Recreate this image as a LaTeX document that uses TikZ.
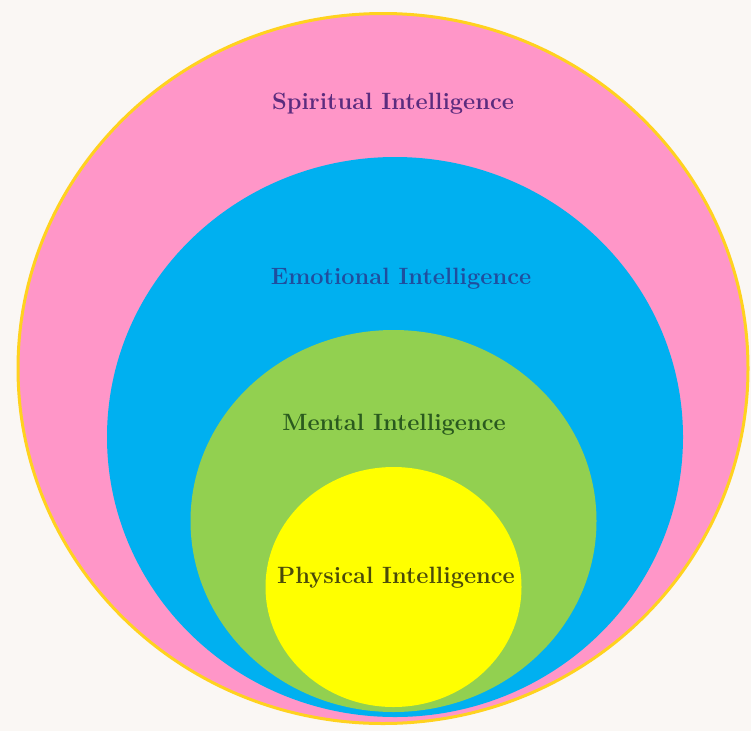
\documentclass[tikz,border=0pt]{standalone}
\usepackage{tikz}
\usetikzlibrary{positioning}
\usepackage{xcolor}

\definecolor{bgcream}{HTML}{FAF7F4}
\definecolor{rimyellow}{HTML}{FFD21F}
\definecolor{spiritpink}{HTML}{FF96C8}
\definecolor{emoblue}{HTML}{00B0F0}
\definecolor{mentgreen}{HTML}{92D050}
\definecolor{physyellow}{HTML}{FFFF00}
\definecolor{spirittext}{HTML}{5B2C7E}
\definecolor{emotext}{HTML}{1F4E9E}
\definecolor{menttext}{HTML}{2A5A1E}
\definecolor{phystext}{HTML}{4A4A0A}

\tikzset{
	lbl/.style={font=\fontsize{23.6}{28}\selectfont\bfseries, inner sep=0pt}
}

\begin{document}
\begin{tikzpicture}[x=1pt, y=-1pt]
			\fill[bgcream] (0,0) rectangle (751,731);
			\useasboundingbox (0,0) rectangle (751,731);
			
			\coordinate (c0) at (383,368.5);
			\coordinate (c1) at (395,437);
			\coordinate (c2) at (393.5,521);
			\coordinate (c3) at (393.5,587);
			
			\filldraw[fill=spiritpink, draw=rimyellow, line width=3pt] (c0) ellipse [x radius=365, y radius=355];
			\fill[emoblue] (c1) ellipse [x radius=288, y radius=280];
			\fill[mentgreen] (c2) ellipse [x radius=203, y radius=191];
			\fill[physyellow] (c3) ellipse [x radius=128, y radius=120];
			
			\node[lbl, text=spirittext] (l0) at (393,104) {Spiritual Intelligence};
			\node[lbl, text=emotext] (l1) at (401,279) {Emotional Intelligence};
			\node[lbl, text=menttext] (l2) at (394,425) {Mental Intelligence};
			\node[lbl, text=phystext] (l3) at (396,578) {Physical Intelligence};
		\end{tikzpicture}
\end{document}
